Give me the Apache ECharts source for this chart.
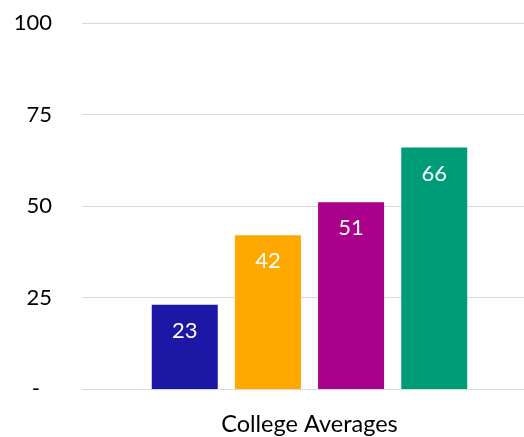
<!DOCTYPE html>
<html>
<head>
<meta charset="utf-8">
<script src="https://cdn.jsdelivr.net/npm/echarts@6/dist/echarts.min.js"></script>
<style>
  html, body { margin: 0; padding: 0; background: #fff; }
  #chart { width: 524px; height: 437px; }
</style>
</head>
<body>
<div id="chart"></div>
<script>
// Category and the four averaged groups shown side by side
var categories = ['College Averages'];
var seriesNames = ['Group 1', 'Group 2', 'Group 3', 'Group 4'];
var seriesValues = [23, 42, 51, 66];
var seriesColors = ['#1c17a5', '#ffa800', '#a9008b', '#009b77'];
var yTicks = [0, 25, 50, 75, 100];

var FONT = 'Lato, "Open Sans", sans-serif';

var chart = echarts.init(document.getElementById('chart'), null, { renderer: 'canvas' });

var series = seriesNames.map(function (name, i) {
  return {
    name: name,
    type: 'bar',
    data: [seriesValues[i]],
    barWidth: 66,
    barGap: '26%',
    itemStyle: { color: seriesColors[i] },
    label: {
      show: true,
      position: 'insideTop',
      distance: 15,
      color: '#ffffff',
      fontFamily: FONT,
      fontSize: 22
    }
  };
});

chart.setOption({
  animation: false,
  // plot area runs a little past the right edge of the canvas
  grid: {
    left: 82, width: 455, top: 23, bottom: 48,
    containLabel: false,
    outerBoundsMode: 'none'
  },
  xAxis: {
    type: 'category',
    data: categories,
    axisLine: { show: true, lineStyle: { color: '#d9d9d9', width: 1 } },
    axisTick: { show: false },
    axisLabel: {
      color: '#000000',
      fontFamily: FONT,
      fontSize: 23.5,
      margin: 23
    }
  },
  yAxis: {
    type: 'value',
    min: yTicks[0],
    max: yTicks[yTicks.length - 1],
    interval: yTicks[1] - yTicks[0],
    axisLine: { show: false },
    axisTick: { show: false },
    splitLine: { lineStyle: { color: '#d9d9d9', width: 1 } },
    axisLabel: {
      color: '#000000',
      fontFamily: FONT,
      fontSize: 22,
      margin: 30,
      formatter: function (v) {
        return v === 0 ? '{dash|-}' : String(v);
      },
      rich: {
        dash: { fontFamily: FONT, fontSize: 22, color: '#000000', padding: [0, 12, 0, 0] }
      }
    }
  },
  series: series
});
</script>
</body>
</html>
